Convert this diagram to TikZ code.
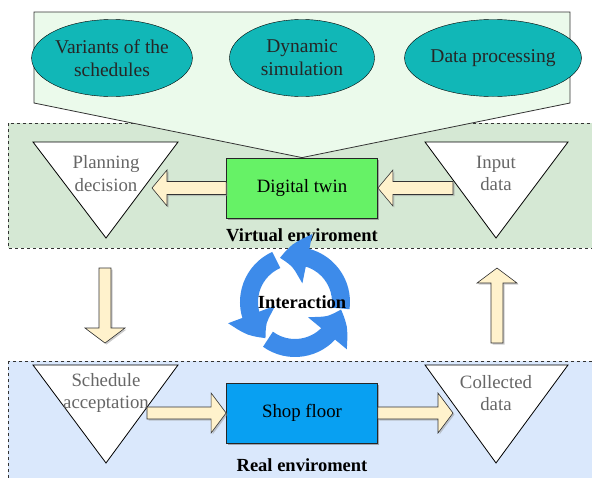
\documentclass[tikz,border=0pt]{standalone}
\usepackage{fontspec}
\setmainfont{Liberation Serif}
\usetikzlibrary{calc, shapes.geometric, arrows.meta, bending, shadows}

\definecolor{calloutfill}{HTML}{EBFAEB}
\definecolor{virtfill}{HTML}{D5E8D4}
\definecolor{realfill}{HTML}{DAE8FC}
\definecolor{tealfill}{HTML}{11B7B7}
\definecolor{twinfill}{HTML}{66F266}
\definecolor{floorfill}{HTML}{08A0F2}
\definecolor{creamfill}{HTML}{FFF2CC}
\definecolor{cycleblue}{HTML}{3D8BEA}

\tikzset{
  region/.style={draw=black!80, dashed, line width=0.8pt},
  callout/.style={draw=black!80, fill=calloutfill, line width=0.8pt},
  bubble/.style={ellipse, draw=black, fill=tealfill, minimum width=145pt, minimum height=77pt, inner sep=0pt,
    align=center, text=black!85, font=\fontsize{19.5}{23}\selectfont},
  tri/.style={draw=black, fill=white, line width=0.8pt},
  trilabel/.style={align=center, text=black!60},
  mainbox/.style={draw=black!85, line width=0.8pt, minimum width=151pt, minimum height=60pt,
    drop shadow={shadow xshift=1.5pt, shadow yshift=-1.5pt, fill=black!60}},
  blockarrow/.style={draw=black!80, fill=creamfill, line width=0.6pt,
    drop shadow={shadow xshift=1.5pt, shadow yshift=-1.5pt, fill=black!40}},
  cyclearrow/.style={cycleblue, line width=18pt, -{Triangle[width=48pt,length=28pt,bend]}},
  envlabel/.style={font=\fontsize{18.5}{22}\selectfont\bfseries}
}

% fat arrow: from, to, half shaft, half head, head length
\newcommand{\fatarrow}[5]{%
  \coordinate (fa-h) at ($(#2)!#5!(#1)$);
  \draw[blockarrow] ($(#1)!#3!90:(#2)$) -- ($(fa-h)!#3!-90:(#1)$) -- ($(fa-h)!#4!-90:(#1)$)
    -- (#2) -- ($(fa-h)!#4!90:(#1)$) -- ($(fa-h)!#3!90:(#1)$) -- ($(#1)!#3!-90:(#2)$) -- cycle;}

\begin{document}
\begin{tikzpicture}[x=1pt, y=-1pt, font=\fontsize{18.8}{22.5}\selectfont]
  \useasboundingbox (0,0) rectangle (592,477);
  \clip (0,0) rectangle (592,477);

  % environments
  \draw[region, fill=virtfill] (8,123) rectangle (600,248);
  \draw[region, fill=realfill] (8,361) rectangle (600,490);

  \node[mainbox, fill=twinfill] (dt) at (302,188) {Digital twin};
  \node[mainbox, fill=floorfill] (sf) at (302,413) {Shop floor};

  % callout with the twin functions
  \draw[callout] (34,103) -- (34,12) -- (570,12) -- (570,103) -- (dt.north) -- cycle;
  \node[bubble] (variants) at (112,58) {Variants of the\\schedules};
  \node[bubble] (simul) at (302,58) {Dynamic\\simulation};
  \node[bubble] (process) at (493,58) {Data processing};

  % triangles
  \draw[tri] (33,142) -- (178,142) -- (106,238) -- cycle;
  \draw[tri] (425,142) -- (568,142) -- (496,238) -- cycle;
  \draw[tri] (33,365) -- (178,365) -- (106,463) -- cycle;
  \draw[tri] (425,365) -- (568,365) -- (496,463) -- cycle;
  \node[trilabel] (plan) at (106,173.5) {Planning\\decision};
  \node[trilabel] (input) at (496,173.5) {Input\\data};
  \node[trilabel] (sched) at (106,393) {Schedule\\acceptation};
  \node[trilabel] (coll) at (496,393) {Collected\\data};

  \node[envlabel] (virt) at (302,235) {Virtual enviroment};
  \node[envlabel] (real) at (302,465) {Real enviroment};

  % block arrows
  \coordinate (plan-in) at (152,188);
  \coordinate (input-out) at (453,188);
  \coordinate (sched-out) at (147,413);
  \coordinate (coll-in) at (453,413);
  \coordinate (down-top) at (105,268);
  \coordinate (down-bot) at (105,343);
  \coordinate (up-bot) at (497,343);
  \coordinate (up-top) at (497,268);
  \fatarrow{dt.west}{plan-in}{6.5pt}{18pt}{15pt}
  \fatarrow{input-out}{dt.east}{6.5pt}{18pt}{15pt}
  \fatarrow{sched-out}{sf.west}{6pt}{20pt}{15pt}
  \fatarrow{sf.east}{coll-in}{6pt}{20pt}{15pt}
  \fatarrow{down-top}{down-bot}{6pt}{20pt}{15pt}
  \fatarrow{up-bot}{up-top}{6pt}{20pt}{15pt}

  % interaction cycle
  \coordinate (cyc) at (295,302);
  \foreach \a in {-8,114,234}
    \draw[cyclearrow] ([shift={(\a:46pt)}]cyc) arc[start angle=\a, end angle=\a+117, radius=46pt];
  \node[envlabel] (inter) at (302,302) {Interaction};
\end{tikzpicture}
\end{document}
